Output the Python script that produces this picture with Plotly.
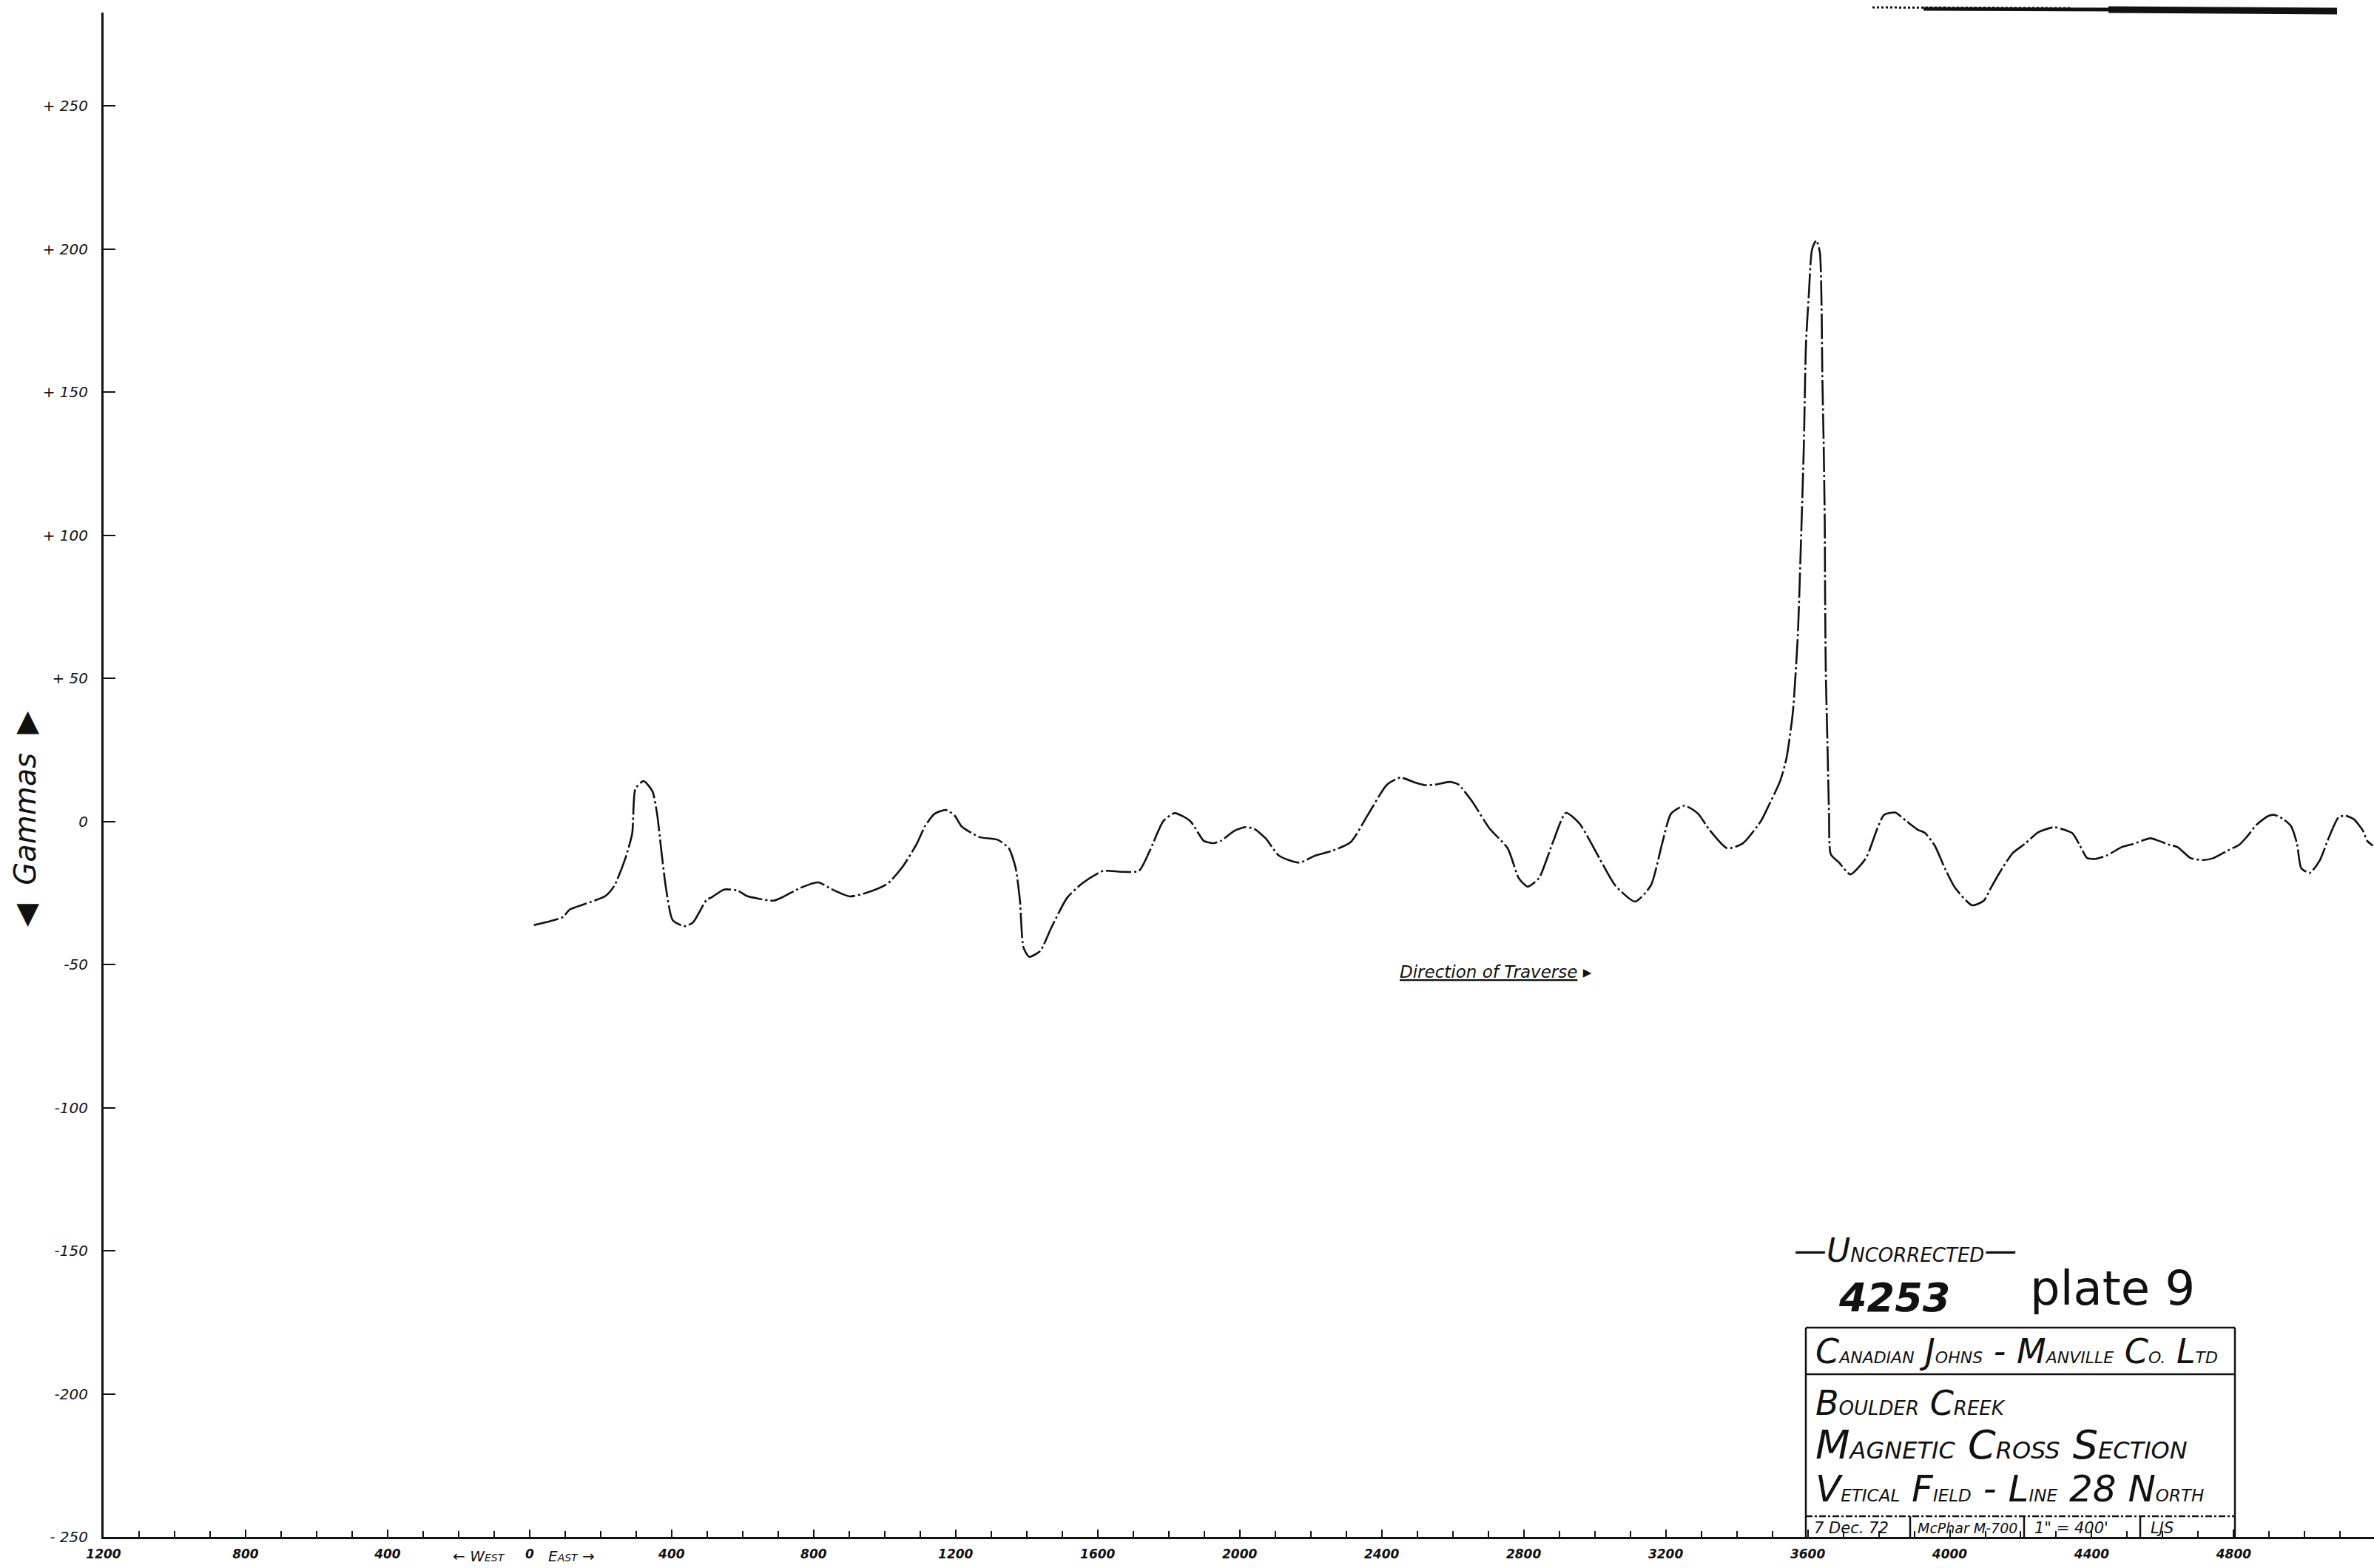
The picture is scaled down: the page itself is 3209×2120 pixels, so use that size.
import plotly.graph_objects as go

# Station along Line 28 North (ft; west of the 0 station is negative) and
# the uncorrected vertical magnetic field reading (gammas) at each point.
station_ft = [
    12, 56, 94, 113, 157, 214, 239, 270, 289, 298, 321, 346, 359, 371, 384,
    403, 435, 460, 498, 513, 548, 586, 611, 649, 687, 712, 763, 813, 851, 902,
    952, 1009, 1053, 1091, 1114, 1141, 1173, 1198, 1217, 1268, 1318, 1350,
    1369, 1381, 1391, 1407, 1438, 1470, 1514, 1558, 1615, 1665, 1716, 1747,
    1785, 1817, 1861, 1899, 1925, 1947, 1985, 2016, 2041, 2073, 2111, 2168,
    2212, 2262, 2313, 2363, 2414, 2452, 2496, 2521, 2553, 2591, 2616, 2654,
    2704, 2755, 2786, 2811, 2843, 2881, 2919, 2957, 3013, 3058, 3114, 3158,
    3190, 3215, 3253, 3291, 3323, 3373, 3417, 3468, 3490, 3522, 3540, 3558,
    3572, 3580, 3589, 3595, 3603, 3612, 3624, 3634, 3639, 3641, 3645, 3648,
    3649, 3651, 3656, 3660, 3665, 3689, 3720, 3764, 3796, 3815, 3846, 3878,
    3910, 3930, 3958, 3986, 4015, 4063, 4096, 4116, 4140, 4177, 4213, 4249,
    4294, 4322, 4346, 4367, 4387, 4411, 4444, 4484, 4516, 4565, 4589, 4617,
    4642, 4678, 4715, 4743, 4783, 4816, 4836, 4864, 4897, 4914, 4937, 4961,
    4978, 4990, 5014, 5042, 5067, 5095, 5115, 5139, 5164, 5176, 5192,
]
vertical_field_gamma = [
    -36.2, -34.9, -33.4, -30.8, -28.8, -26.0, -22.4, -12.8, -4.2, 11.4, 14.1,
    10.5, 2.7, -10.2, -23.2, -34.5, -36.6, -35.3, -27.5, -26.5, -23.8, -24.2,
    -26.0, -27.1, -27.7, -26.5, -23.2, -21.3, -23.7, -26.2, -24.8, -21.7,
    -15.4, -7.7, -1.6, 2.7, 4.0, 1.9, -1.8, -5.5, -6.4, -9.4, -16.3, -27.5,
    -44.0, -47.3, -45.3, -37.0, -26.7, -21.5, -17.3, -17.6, -17.3, -10.2, 0.1,
    2.9, 0.1, -6.8, -7.6, -6.8, -3.3, -2.0, -2.6, -5.9, -12.0, -14.4, -12.0,
    -10.2, -7.2, 2.7, 12.7, 15.3, 13.5, 12.7, 12.9, 13.8, 12.9, 7.1, -2.5,
    -9.4, -19.8, -22.8, -19.8, -7.7, 3.0, -0.7, -12.8, -22.4, -28.0, -22.4,
    -7.7, 2.7, 5.5, 2.7, -2.9, -9.4, -7.7, 0.1, 5.5, 14.0, 22.0, 38.0, 64.7,
    93.8, 130.9, 166.7, 183.8, 199.7, 203.0, 199.0, 180.0, 157.0, 131.0,
    104.0, 78.0, 51.5, 25.0, 2.7, -11.5, -14.5, -18.5, -12.8, -2.5, 2.3, 3.1,
    0.1, -2.9, -4.0, -8.5, -16.3, -23.2, -29.3, -27.7, -23.2, -18.0, -11.1,
    -7.7, -3.8, -2.0, -2.9, -4.2, -8.5, -12.8, -13.1, -11.8, -9.0, -7.9, -5.9,
    -6.8, -8.1, -9.0, -12.8, -13.5, -12.8, -10.2, -8.1, -5.5, -1.2, 1.9, 2.3,
    1.0, -1.6, -7.7, -16.3, -18.0, -13.7, -5.9, 1.4, 2.0, 0.7, -3.3, -6.8,
    -8.5,
]

# Axis ticks: stations labelled every 400 ft, west side without sign
x_tick_vals = [-1200, -800, -400, 0, 400, 800, 1200, 1600, 2000, 2400,
               2800, 3200, 3600, 4000, 4400, 4800]
x_tick_text = ["1200", "800", "400", "0", "400", "800", "1200", "1600",
               "2000", "2400", "2800", "3200", "3600", "4000", "4400", "4800"]
y_tick_vals = [250, 200, 150, 100, 50, 0, -50, -100, -150, -200, -250]
y_tick_text = ["+ 250", "+ 200", "+ 150", "+ 100", "+ 50", "0", "-50",
               "-100", "-150", "-200", "- 250"]

W, H = 3209, 2120
L, R, T, B = 140, 3209, 17, 2078
INK = "#111111"
HAND = "DejaVu Sans, Liberation Sans, sans-serif"


def px(x):
    return (x - L) / (R - L)


def py(y):
    return (B - y) / (B - T)


def span(text, size):
    return f"<span style='font-size:{size}px'>{text}</span>"


def caps(text, big, small):
    """Drafting-style small caps: first letter of each word large."""
    out = []
    for word in text.split(" "):
        if word and word[0].isalpha() and len(word) > 1:
            out.append(span(word[0], big) + span(word[1:], small))
        else:
            out.append(span(word, big))
    return span(" ", big).join(out)


fig = go.Figure()
fig.add_trace(go.Scatter(
    x=station_ft, y=vertical_field_gamma, mode="lines",
    line=dict(color=INK, width=2.6, shape="spline", smoothing=0.6,
              dash="34px,4px,3px,4px"),
    hoverinfo="skip", showlegend=False,
))

fig.update_xaxes(
    range=[-1200, 5195], tickmode="array", tickvals=x_tick_vals,
    ticktext=x_tick_text, ticks="inside", ticklen=10, tickwidth=2,
    tickcolor=INK, showline=True, linewidth=3, linecolor=INK,
    showgrid=False, zeroline=False, ticklabelstandoff=6,
    tickfont=dict(family=HAND, size=17, color=INK, style="italic",
                  weight="bold"),
    minor=dict(tickmode="linear", tick0=0, dtick=100, ticks="inside",
               ticklen=8, tickwidth=2, tickcolor=INK, showgrid=False),
)
fig.update_yaxes(
    range=[-250, 282.6], tickmode="array", tickvals=y_tick_vals,
    ticktext=y_tick_text, ticks="inside", ticklen=16, tickwidth=2,
    tickcolor=INK, showline=True, linewidth=3, linecolor=INK,
    showgrid=False, zeroline=False, ticklabelstandoff=14,
    tickfont=dict(family=HAND, size=20, color=INK, style="italic"),
)

ann = []


def note(x, y, text, size, xanchor="center", angle=0, **font):
    ann.append(dict(
        x=px(x), y=py(y), xref="paper", yref="paper", text=text,
        showarrow=False, xanchor=xanchor, yanchor="middle", textangle=angle,
        align="left" if xanchor == "left" else "center",
        font=dict(family=HAND, size=size, color=INK, **font),
    ))


# vertical axis caption
note(34, 1108, "◀  Gammas  ▶", 40, angle=-90, style="italic")
# east / west either side of station 0
note(647, 2104, "← " + caps("WEST", 20, 14), 20, style="italic")
note(772, 2104, caps("EAST", 20, 14) + " →", 20, style="italic")
# traverse direction
note(2022, 1314, "<u>Direction of Traverse</u> ▸", 23, style="italic")

# title block text
note(2575, 1690, "—" + caps("UNCORRECTED", 44, 26) + "—", 44, style="italic")
note(2560, 1755, "4253", 54, style="italic", weight="bold")
note(2855, 1742, "plate 9", 64)
note(2452, 1827, caps("CANADIAN JOHNS - MANVILLE CO. LTD", 46, 22), 46,
     xanchor="left", style="italic")
title_lines = [
    caps("BOULDER CREEK", 46, 26),
    caps("MAGNETIC CROSS SECTION", 54, 32),
    caps("VETICAL FIELD - LINE 28 NORTH", 50, 23),
]
note(2452, 1956, "<br>".join(title_lines), 45, xanchor="left",
     style="italic")
note(2450, 2066, "7 Dec. 72", 21, xanchor="left", style="italic")
note(2590, 2066, "McPhar M-700", 19, xanchor="left", style="italic")
note(2748, 2066, "1\" = 400'", 21, xanchor="left", style="italic")
note(2905, 2066, "LJS", 21, xanchor="left", style="italic")

shapes = []


def seg(x0, y0, x1, y1, width=2.5, dash="solid"):
    shapes.append(dict(type="line", xref="paper", yref="paper",
                       x0=px(x0), y0=py(y0), x1=px(x1), y1=py(y1),
                       line=dict(color=INK, width=width, dash=dash)))


# title block frame and cell rules
seg(2441, 1795, 3021, 1795)
seg(2441, 1795, 2441, 2080)
seg(3021, 1795, 3021, 2080)
seg(2441, 1858, 3021, 1858)
seg(2441, 2050, 3021, 2050, dash="dashdot")
for xs in (2582, 2736, 2893):
    seg(xs, 2050, xs, 2080)
# sheet edge along the top right
seg(2531, 10, 2800, 11, width=3, dash="dot")
seg(2600, 12, 3159, 14, width=5)
seg(2850, 13, 3159, 15, width=9)

fig.update_layout(
    width=W, height=H, autosize=False,
    margin=dict(l=L, r=W - R, t=T, b=H - B),
    paper_bgcolor="white", plot_bgcolor="white",
    annotations=ann, shapes=shapes, showlegend=False,
)

fig.write_html("out.html")
